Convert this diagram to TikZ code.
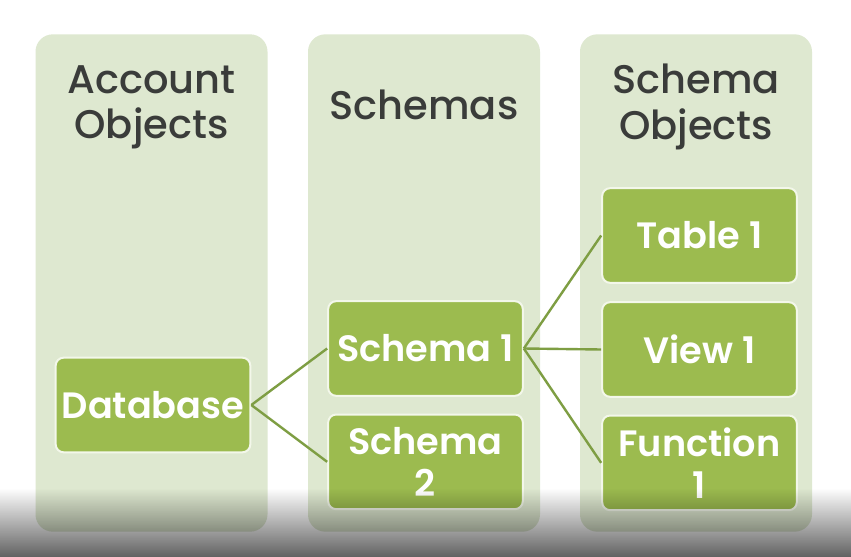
\documentclass[tikz,border=0pt]{standalone}
\usepackage{fontspec}
\setmainfont{Poppins}
\newfontfamily\medfont{Poppins Medium}
\newfontfamily\semifont{Poppins SemiBold}
\usetikzlibrary{positioning,fadings}
\definecolor{colfill}{HTML}{DEE8D0}
\definecolor{boxgreen}{HTML}{9CBB4F}
\definecolor{linkgreen}{HTML}{7E9E43}
\definecolor{headgray}{HTML}{3A3C3A}
\definecolor{boxedge}{HTML}{F3F7EA}

\begin{document}
\begin{tikzpicture}[x=0.75pt,y=-0.75pt,
  column/.style={fill=colfill,rounded corners=13pt,minimum width=174pt,minimum height=373pt},
  header/.style={headgray,font=\medfont\fontsize{30}{34}\selectfont,align=center},
  objbox/.style={fill=boxgreen,draw=boxedge,line width=1.5pt,rounded corners=6pt,
    minimum width=146pt,minimum height=71pt,inner sep=2pt,text=white,
    font=\semifont\fontsize{27.5}{31.5}\selectfont,align=center},
  link/.style={linkgreen,line width=1.8pt}]
  \useasboundingbox[fill=white] (0,0) rectangle (851,557);
  % three columns with their headers
  \node[column] (acctcol) at (151.5,283) {};
  \node[column] (schemacol) at (424,283) {};
  \node[column] (objcol) at (696,283) {};
  \node[header] (accthead) at (151.5,107) {Account\\Objects};
  \node[header] (schemahead) at (424,105) {Schemas};
  \node[header] (objhead) at (696,107) {Schema\\Objects};
  % object boxes
  \node[objbox] (database) at (153,405) {Database};
  \node[objbox] (schema1) at (425.5,348.5) {Schema 1};
  \node[objbox,below=12.5pt of schema1] (schema2) {Schema\\2};
  \node[objbox] (view1) at (699.5,349.5) {View 1};
  \node[objbox,above=13pt of view1] (table1) {Table 1};
  \node[objbox,below=12.5pt of view1] (func1) {Function\\1};
  % connectors
  \draw[link] (database.east) -- (schema1.west);
  \draw[link] (database.east) -- (schema2.west);
  \draw[link] (schema1.east) -- (table1.west);
  \draw[link] (schema1.east) -- (view1.west);
  \draw[link] (schema1.east) -- (func1.west);
  % grey band at the foot
  \fill[black,opacity=0.62,path fading=north] (0,488) rectangle (851,557);
\end{tikzpicture}
\end{document}
